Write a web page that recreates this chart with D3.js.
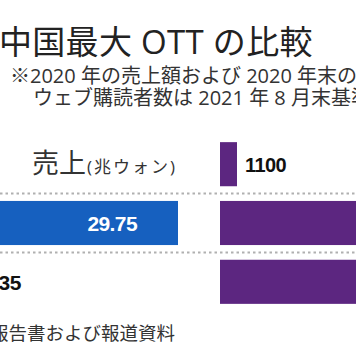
<!DOCTYPE html>
<html><head><meta charset="utf-8">
<script src="https://cdn.jsdelivr.net/npm/d3@7"></script>
<style>
html,body{margin:0;padding:0;background:#fff;overflow:hidden}
svg{display:block}
</style></head>
<body>
<script>
// ---- data ----
const rows = ["row0", "row1", "row2"];
const salesValues = [null, 29.75, 2.35];          // 兆ウォン (row0 holds the header)
const salesLabels = [null, "29.75", "2.35"];
const subsValues = [1100, 10500, 12300];           // 万人
const subsLabels = ["1100", "10500", "12300"];
const title = "中国最大 OTT の比較";
const notes = ["※2020 年の売上額および 2020 年末の有料会員数基準、", "ウェブ購読者数は 2021 年 8 月末基準"];
const salesHeader = "売上";
const salesUnit = "(兆ウォン)";
const source = "資料：各社の報告書および報道資料";

const W = 356, H = 364;
const jp = "'Open Sans','Noto Sans CJK JP',sans-serif";
const num = "'Liberation Sans',Arial,sans-serif";
const blue = "#1660bf", purple = "#5c2680";

const svg = d3.select("body").append("svg").attr("width", W).attr("height", H);

svg.append("text").attr("x", -1).attr("y", 54)
  .attr("font-family", jp).attr("font-size", 33).attr("letter-spacing", 0.3)
  .attr("fill", "#222").text(title);
svg.append("text").attr("x", 10).attr("y", 83)
  .attr("font-family", jp).attr("font-size", 20).attr("fill", "#333").text(notes[0]);
svg.append("text").attr("x", 33).attr("y", 105)
  .attr("font-family", jp).attr("font-size", 20).attr("fill", "#333").text(notes[1]);

const y = d3.scaleBand().domain(rows).range([134.5, 311.5]).paddingInner(0.25).paddingOuter(0.13);
const xL = d3.scaleLinear().domain([0, 29.75]).range([-40, 178]);
const xR = d3.scaleLinear().domain([0, 1100]).range([220, 237]);

// dotted separators
rows.slice(1).forEach(r => {
  const yy = y(r) - y.step() * y.paddingInner() / 2;
  svg.append("line").attr("x1", 0).attr("x2", W).attr("y1", yy).attr("y2", yy)
    .attr("stroke", "#b0b0b0").attr("stroke-width", 2).attr("stroke-dasharray", "2.5,3");
});

// header in row 0 of the left column
const hdr = svg.append("text").attr("x", 32).attr("y", y("row0") + y.bandwidth() / 2 + 9)
  .attr("font-family", jp).attr("fill", "#333");
hdr.append("tspan").attr("font-size", 27).text(salesHeader);
hdr.append("tspan").attr("font-size", 17).attr("letter-spacing", 2).attr("dx", 1).text(salesUnit);

// left bars (sales)
rows.forEach((r, i) => {
  if (salesValues[i] == null) return;
  svg.append("rect").attr("x", xL(0)).attr("y", y(r))
    .attr("width", xL(salesValues[i]) - xL(0)).attr("height", y.bandwidth()).attr("fill", blue);
  const big = salesValues[i] > 10;
  svg.append("text")
    .attr("x", big ? xL(salesValues[i]) - 41 : xL(salesValues[i]) + 5)
    .attr("y", y(r) + y.bandwidth() / 2 + 8)
    .attr("text-anchor", big ? "end" : "start")
    .attr("font-family", num).attr("font-weight", "bold").attr("font-size", 21)
    .attr("letter-spacing", -0.6)
    .attr("fill", big ? "#fff" : "#111").text(salesLabels[i]);
});

// right bars (subscribers)
rows.forEach((r, i) => {
  svg.append("rect").attr("x", xR(0)).attr("y", y(r))
    .attr("width", xR(subsValues[i]) - xR(0)).attr("height", y.bandwidth()).attr("fill", purple);
  svg.append("text").attr("x", xR(subsValues[i]) + 8)
    .attr("y", y(r) + y.bandwidth() / 2 + 8)
    .attr("font-family", num).attr("font-weight", "bold").attr("font-size", 20)
    .attr("letter-spacing", -0.6)
    .attr("fill", "#111").text(subsLabels[i]);
});

svg.append("text").attr("x", 175).attr("y", 340).attr("text-anchor", "end")
  .attr("font-family", jp).attr("font-size", 18.5).attr("fill", "#333").text(source);
</script>
</body></html>
